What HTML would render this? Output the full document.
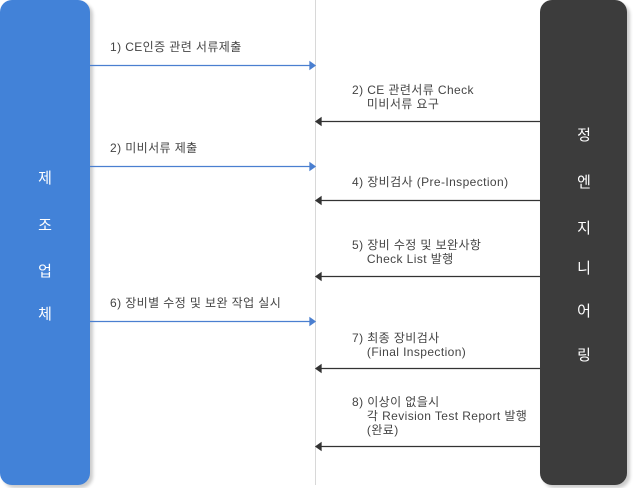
<!DOCTYPE html>
<html><head><meta charset="utf-8"><style>
body{margin:0;width:633px;height:488px;background:#fff;position:relative;overflow:hidden;font-family:"Liberation Sans","Noto Sans CJK KR",sans-serif;}
.box{position:absolute;top:0;height:485px;border-radius:0 0 12px 12px;box-shadow:3px 3px 3px #ccc;}
.t{position:absolute;font-size:12px;color:#444;line-height:14px;white-space:pre;letter-spacing:0.4px;}
.v{position:absolute;color:#fff;font-size:15px;width:40px;text-align:center;}
</style></head><body>
<div class="box" style="left:0;width:90px;background:#4282d8;border-radius:12px"></div>
<div class="box" style="left:540px;width:87px;background:#3c3c3c;border-radius:12px"></div>
<div style="position:absolute;left:315px;top:0;width:1px;height:485px;background:#d8d8d8"></div>
<svg width="633" height="488" style="position:absolute;left:0;top:0">
<g stroke="#4a7fd0" stroke-width="1.3" fill="#4a7fd0">
<line x1="90" y1="65.5" x2="311" y2="65.5"/><polygon points="315,65.5 310,62 310,69"/>
<line x1="90" y1="166.5" x2="311" y2="166.5"/><polygon points="315,166.5 310,163 310,170"/>
<line x1="90" y1="321.5" x2="311" y2="321.5"/><polygon points="315,321.5 310,318 310,325"/>
</g>
<g stroke="#333" stroke-width="1.3" fill="#333">
<line x1="321" y1="121.5" x2="540" y2="121.5"/><polygon points="316,121.5 321,118 321,125"/>
<line x1="321" y1="200.5" x2="540" y2="200.5"/><polygon points="316,200.5 321,197 321,204"/>
<line x1="321" y1="276.5" x2="540" y2="276.5"/><polygon points="316,276.5 321,273 321,280"/>
<line x1="321" y1="368.5" x2="540" y2="368.5"/><polygon points="316,368.5 321,365 321,372"/>
<line x1="321" y1="446.5" x2="540" y2="446.5"/><polygon points="316,446.5 321,443 321,450"/>
</g></svg>
<div class="t" style="left:110px;top:40px">1) CE인증 관련 서류제출</div>
<div class="t" style="left:110px;top:141px">2) 미비서류 제출</div>
<div class="t" style="left:110px;top:296px">6) 장비별 수정 및 보완 작업 실시</div>
<div class="t" style="left:352px;top:83px">2) CE 관련서류 Check
    미비서류 요구</div>
<div class="t" style="left:352px;top:175px">4) 장비검사 (Pre-Inspection)</div>
<div class="t" style="left:352px;top:238px">5) 장비 수정 및 보완사항
    Check List 발행</div>
<div class="t" style="left:352px;top:331px">7) 최종 장비검사
    (Final Inspection)</div>
<div class="t" style="left:352px;top:395px">8) 이상이 없을시
    각 Revision Test Report 발행
    (완료)</div>
<div class="v" style="left:25px;top:167px">제</div>
<div class="v" style="left:25px;top:214px">조</div>
<div class="v" style="left:25px;top:260px">업</div>
<div class="v" style="left:25px;top:303px">체</div>
<div class="v" style="left:564px;top:124px">정</div>
<div class="v" style="left:564px;top:171px">엔</div>
<div class="v" style="left:564px;top:217px">지</div>
<div class="v" style="left:564px;top:257px">니</div>
<div class="v" style="left:564px;top:300px">어</div>
<div class="v" style="left:564px;top:344px">링</div>
</body></html>
